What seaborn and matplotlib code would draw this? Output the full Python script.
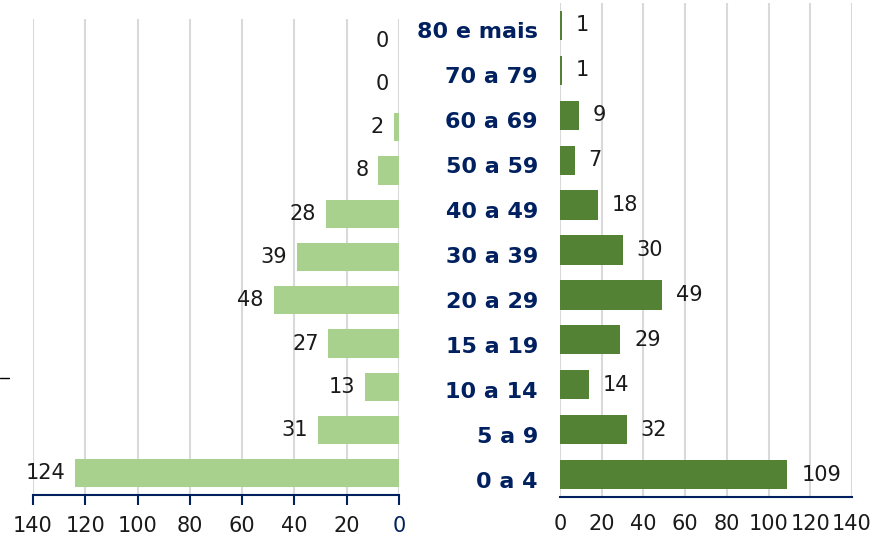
import pandas as pd
import matplotlib.pyplot as plt
import seaborn as sns
from matplotlib.lines import Line2D
from matplotlib.transforms import ScaledTranslation

faixas = ["80 e mais", "70 a 79", "60 a 69", "50 a 59", "40 a 49", "30 a 39",
          "20 a 29", "15 a 19", "10 a 14", "5 a 9", "0 a 4"]
esquerda = [0, 0, 2, 8, 28, 39, 48, 27, 13, 31, 124]
direita = [1, 1, 9, 7, 18, 30, 49, 29, 14, 32, 109]
ticks = [0, 20, 40, 60, 80, 100, 120, 140]

sns.set_style("white")
plt.rcParams['font.family'] = ['DejaVu Sans']

navy = "#002060"
grid = "#D9D9D9"
txt = "#1a1a1a"

df = pd.DataFrame({"faixa": faixas, "esq": esquerda, "dir": direita})

fig = plt.figure(figsize=(8.84, 5.39), dpi=100)
axL = fig.add_axes([33/884, 1-495/539, (399-33)/884, (495-19)/539])
axR = fig.add_axes([560/884, 1-497/539, (852-560)/884, (497-3)/539])

sns.barplot(data=df, x="esq", y="faixa", order=faixas, color="#A9D18E",
            saturation=1, width=0.65, linewidth=0, ax=axL)
sns.barplot(data=df, x="dir", y="faixa", order=faixas, color="#548235",
            saturation=1, width=0.65, linewidth=0, ax=axR)

for ax in (axL, axR):
    ax.set_xlabel("")
    ax.set_ylabel("")
    ax.set_xticks(ticks)
    ax.set_axisbelow(True)
    ax.grid(axis="x", color=grid, linewidth=1.5)
    for s in ["top", "left", "right"]:
        ax.spines[s].set_visible(False)
    ax.spines["bottom"].set_color(navy)
    ax.spines["bottom"].set_linewidth(1.5)

axL.set_xlim(140, 0)
axR.set_xlim(0, 140)

# value labels: left side grows to the left, right side to the right
for bar, v in zip(axL.containers[0], esquerda):
    axL.annotate(str(v), (bar.get_width(), bar.get_y() + bar.get_height() / 2),
                 xytext=(-7, 0), textcoords="offset points", ha="right",
                 va="center", fontsize=15, color=txt)
for bar, v in zip(axR.containers[0], direita):
    axR.annotate(str(v), (bar.get_width(), bar.get_y() + bar.get_height() / 2),
                 xytext=(10, 0), textcoords="offset points", ha="left",
                 va="center", fontsize=15, color=txt)

axL.tick_params(axis="x", bottom=True, direction="out", length=7, width=1.5,
                color=navy, labelsize=15, labelcolor=txt, pad=8)
axL.get_xticklabels()[0].set_color(navy)
axL.tick_params(axis="y", left=False, labelleft=False)

axR.tick_params(axis="x", length=0, labelsize=15, labelcolor=txt, pad=12)
axR.tick_params(axis="y", length=0, pad=16)
shift = ScaledTranslation(0, -5/100, fig.dpi_scale_trans)
for lab in axR.get_yticklabels():
    lab.set_fontweight("bold")
    lab.set_fontsize(16)
    lab.set_color(navy)
    lab.set_transform(lab.get_transform() + shift)

fig.add_artist(Line2D([0, 9/884], [1-378/539, 1-378/539], color="black", lw=1))

plt.savefig("out.png", dpi=100)
